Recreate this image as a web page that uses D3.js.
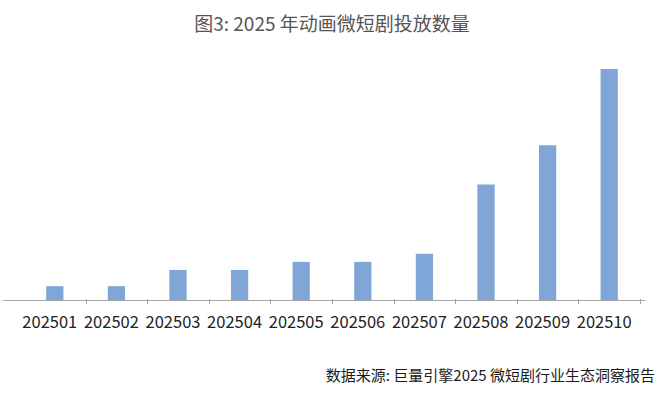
<!DOCTYPE html>
<html>
<head>
<meta charset="utf-8">
<script src="https://cdn.jsdelivr.net/npm/d3@7/dist/d3.min.js"></script>
<style>
  html, body { margin: 0; padding: 0; background: #fff; }
  svg { display: block; }
  text { font-family: "Noto Sans CJK SC", "Noto Sans", sans-serif; }
</style>
</head>
<body>
<svg id="chart" width="660" height="396"></svg>
<script>
const titleText = "图3: 2025 年动画微短剧投放数量";
const sourceText = "数据来源: 巨量引擎2025 微短剧行业生态洞察报告";
const categories = ["202501","202502","202503","202504","202505","202506","202507","202508","202509","202510"];
const values = [0.6, 0.6, 1.3, 1.3, 1.65, 1.65, 2.0, 5.0, 6.7, 10.0];

const svg = d3.select("#chart");
const axisY = 300;

const x = d3.scaleBand().domain(categories).range([24, 640]).paddingInner(0.72).paddingOuter(0.36);
const y = d3.scaleLinear().domain([0, 10]).range([axisY, 69]);

svg.append("text")
  .attr("x", 332).attr("y", 31)
  .attr("text-anchor", "middle")
  .attr("font-size", 19)
  .attr("font-weight", 400)
  .attr("fill", "#555555")
  .text(titleText);

svg.append("g")
  .selectAll("rect")
  .data(values)
  .join("rect")
  .attr("x", (d, i) => x(categories[i]))
  .attr("width", x.bandwidth())
  .attr("y", d => y(d))
  .attr("height", d => axisY - y(d))
  .attr("fill", "#7fa6d7");

// axis line
svg.append("line")
  .attr("x1", 3).attr("x2", 645)
  .attr("y1", axisY + 0.5).attr("y2", axisY + 0.5)
  .attr("stroke", "#a6a6a6").attr("stroke-width", 1);

// tick marks at band boundaries
const step = x.step();
const bounds = categories.map((c, i) => 24 + step * (i + 1));
svg.append("g")
  .selectAll("line")
  .data(bounds)
  .join("line")
  .attr("x1", d => Math.round(d) + 0.5).attr("x2", d => Math.round(d) + 0.5)
  .attr("y1", axisY - 1).attr("y2", axisY + 4)
  .attr("stroke", "#a6a6a6").attr("stroke-width", 1);

svg.append("g")
  .selectAll("text")
  .data(categories)
  .join("text")
  .attr("x", d => x(d) + x.bandwidth() / 2 - 5)
  .attr("y", 328)
  .attr("text-anchor", "middle")
  .attr("font-size", 16.5)
  .attr("font-weight", 400)
  .attr("fill", "#222222")
  .text(d => d);

svg.append("text")
  .attr("x", 655).attr("y", 381)
  .attr("text-anchor", "end")
  .attr("font-size", 15)
  .attr("fill", "#1a1a1a")
  .text(sourceText);
</script>
</body>
</html>
